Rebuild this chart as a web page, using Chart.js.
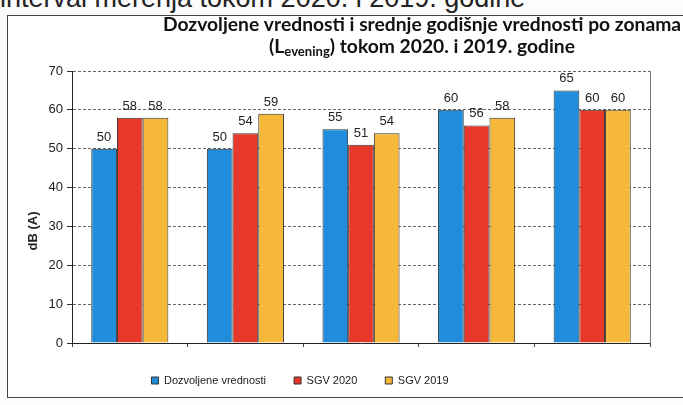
<!DOCTYPE html>
<html><head><meta charset="utf-8">
<script src="https://cdn.jsdelivr.net/npm/chart.js@4.4.0/dist/chart.umd.min.js"></script>
<style>
html,body{margin:0;padding:0;background:#fcfcfc;overflow:hidden;width:683px;height:405px;}
#top{position:absolute;left:0;top:-15px;font:27px 'Liberation Sans',Arial,sans-serif;color:#222;white-space:nowrap;line-height:27px;}
#frame{position:absolute;left:7px;top:15px;width:720px;height:381px;border:1px solid #444;background:#fff;}
#c{position:absolute;left:0;top:0;}
</style></head><body>
<div id="top">interval merenja tokom 2020. i 2019. godine</div>
<div id="frame"></div>
<canvas id="c" width="683" height="405"></canvas>
<script>
const categories = ['1','2','3','4','5'];
const dozvoljene = [50,50,55,60,65];
const sgv2020 = [58,54,51,56,60];
const sgv2019 = [58,59,54,58,60];
const seriesNames = ['Dozvoljene vrednosti','SGV 2020','SGV 2019'];
const yMin = 0, yMax = 70, yStep = 10;
const titleLine1 = 'Dozvoljene vrednosti i srednje godišnje vrednosti po zonama';
const titleLine2Pre = '(L', titleLine2Sub = 'evening', titleLine2Post = ') tokom 2020. i 2019. godine';
const yTitle = 'dB (A)';

const FONT = "'Liberation Sans', Arial, sans-serif";

const dataLabels = {
  id: 'dataLabels',
  afterDatasetsDraw(chart) {
    const ctx = chart.ctx;
    ctx.save();
    ctx.font = '13px ' + FONT;
    ctx.fillStyle = '#222';
    ctx.textAlign = 'center';
    ctx.textBaseline = 'alphabetic';
    chart.data.datasets.forEach((ds, i) => {
      chart.getDatasetMeta(i).data.forEach((el, j) => {
        ctx.fillText(String(ds.data[j]), el.x, el.y - 8);
      });
    });
    ctx.restore();
  }
};

const legendShift = {
  id: 'legendShift',
  afterLayout(chart) {
    const lg = chart.legend;
    if (!lg) return;
    lg.left -= 25; lg.right -= 25;
    lg.top += 2; lg.bottom += 2;
  }
};

const titles = {
  id: 'titles',
  afterDraw(chart) {
    const ctx = chart.ctx;
    ctx.save();
    ctx.fillStyle = '#111';
    ctx.textBaseline = 'alphabetic';
    let size = 16;
    ctx.font = 'bold ' + size + "px Lato, 'Open Sans', sans-serif";
    const w = ctx.measureText(titleLine1).width;
    size = size * 518 / w;
    const cx = 422;
    ctx.font = 'bold ' + size.toFixed(2) + "px Lato, 'Open Sans', sans-serif";
    ctx.textAlign = 'center';
    ctx.fillText(titleLine1, cx, 31);
    const bigF = 'bold ' + size.toFixed(2) + "px Lato, 'Open Sans', sans-serif";
    const subF = 'bold ' + (size * 0.68).toFixed(2) + "px Lato, 'Open Sans', sans-serif";
    ctx.font = bigF; const w1 = ctx.measureText(titleLine2Pre).width; const w3 = ctx.measureText(titleLine2Post).width;
    ctx.font = subF; const w2 = ctx.measureText(titleLine2Sub).width;
    let x = cx - (w1 + w2 + w3) / 2;
    ctx.textAlign = 'left';
    const by = 53;
    ctx.font = bigF; ctx.fillText(titleLine2Pre, x, by); x += w1;
    ctx.font = subF; ctx.fillText(titleLine2Sub, x, by + 3); x += w2;
    ctx.font = bigF; ctx.fillText(titleLine2Post, x, by);
    ctx.font = 'bold 13px ' + FONT;
    ctx.fillStyle = '#222';
    ctx.translate(33, 231);
    ctx.rotate(-Math.PI / 2);
    ctx.textAlign = 'center';
    ctx.textBaseline = 'middle';
    ctx.fillText(yTitle, 0, 0);
    ctx.restore();
  }
};

const colors = ['#1f8ddb', '#e8382c', '#f6b838'];
const data = {
  labels: categories,
  datasets: [dozvoljene, sgv2020, sgv2019].map((d, i) => ({
    label: seriesNames[i],
    data: d,
    backgroundColor: colors[i],
    borderColor: '#333',
    borderWidth: 1,
    borderSkipped: 'bottom',
    categoryPercentage: 0.667,
    barPercentage: 1.0,
    yAxisID: 'y'
  }))
};

new Chart(document.getElementById('c'), {
  type: 'bar',
  data,
  plugins: [dataLabels, titles, legendShift],
  options: {
    responsive: false,
    animation: false,
    devicePixelRatio: 1,
    layout: { padding: { top: 71, left: 0, right: 33, bottom: 11 } },
    plugins: {
      tooltip: { enabled: false },
      title: { display: false },
      legend: {
        position: 'bottom',
        labels: {
          boxWidth: 7, boxHeight: 7, padding: 28,
          font: { size: 11, family: FONT },
          color: '#222'
        }
      }
    },
    scales: {
      x: {
        grid: { drawOnChartArea: false, offset: true, tickLength: 4, color: '#444', lineWidth: 1 },
        border: { color: '#222', width: 1 },
        ticks: { font: { size: 13, family: FONT }, color: '#222', padding: 4 },
        afterFit(s) { s.height = 2; }
      },
      y: {
        min: yMin, max: yMax,
        ticks: { stepSize: yStep, font: { size: 13, family: FONT }, color: '#222', padding: 4 },
        grid: { color: '#666', lineWidth: 1, tickLength: 5, tickColor: '#333', tickBorderDash: [] },
        border: { color: '#222', width: 1, dash: [3, 2] },
        afterFit(s) { s.width = 72; }
      },
      y2: {
        position: 'right',
        min: yMin, max: yMax,
        ticks: { display: false },
        grid: { display: false },
        border: { display: true, color: '#777', width: 1, dash: [3, 2] },
        afterFit(s) { s.width = 0; }
      }
    }
  }
});
</script>
</body></html>
